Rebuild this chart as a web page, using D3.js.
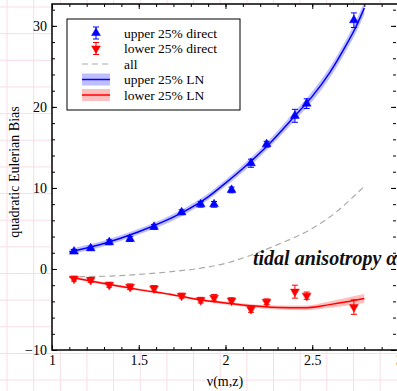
<!DOCTYPE html>
<html>
<head>
<meta charset="utf-8">
<script src="https://cdn.jsdelivr.net/npm/d3@7"></script>
<style>
  body { margin: 0; background: #fff; }
  svg { display: block; font-family: "Liberation Serif", serif; }
</style>
</head>
<body>
<div id="chart"></div>
<script>
// measured points (nu, bias, error)
const nuPts     = [1.127, 1.223, 1.33, 1.45, 1.588, 1.747, 1.857, 1.934, 2.035, 2.147, 2.237, 2.40, 2.468, 2.74];
const upperBias = [2.15, 2.55, 3.3, 3.7, 5.2, 7.0, 7.98, 7.98, 9.75, 13.05, 15.4, 18.9, 20.4, 30.7];
const upperErr  = [0.25, 0.25, 0.3, 0.3, 0.3, 0.3, 0.35, 0.35, 0.35, 0.5, 0.35, 0.8, 0.6, 0.9];
const lowerBias = [-1.2, -1.35, -1.95, -2.2, -2.4, -3.3, -3.85, -3.55, -3.9, -4.95, -4.05, -2.8, -3.3, -4.7];
const lowerErr  = [0.3, 0.3, 0.3, 0.35, 0.35, 0.3, 0.35, 0.4, 0.35, 0.4, 0.35, 0.8, 0.45, 0.9];

// LN model curves
const nuUpperLN = [1.1, 1.3, 1.5, 1.75, 1.9, 2.0, 2.1, 2.25, 2.4, 2.5, 2.6, 2.7, 2.75, 2.8];
const upperLN   = [2.1, 3.15, 4.6, 6.95, 8.9, 10.6, 12.4, 15.4, 18.9, 21.3, 24.2, 27.8, 29.8, 32.2];
const upperLNe  = [0.35, 0.35, 0.35, 0.4, 0.4, 0.4, 0.45, 0.5, 0.55, 0.6, 0.65, 0.7, 0.75, 0.8];
const nuLowerLN = [1.1, 1.3, 1.5, 1.7, 1.85, 2.0, 2.15, 2.3, 2.45, 2.6, 2.7, 2.8];
const lowerLN   = [-1.0, -1.8, -2.55, -3.2, -3.8, -4.2, -4.55, -4.75, -4.8, -4.4, -4.05, -3.65];
const lowerLNe  = [0.15, 0.15, 0.15, 0.15, 0.15, 0.18, 0.2, 0.25, 0.3, 0.4, 0.5, 0.55];

// all haloes
const nuAll  = [1.1, 1.3, 1.5, 1.7, 1.85, 2.0, 2.1, 2.3, 2.5, 2.6, 2.8];
const allB   = [-0.95, -0.9, -0.68, -0.3, 0.08, 0.7, 1.35, 3.0, 5.0, 6.4, 10.2];

const xTicks = [1, 1.5, 2, 2.5, 3];
const yTicks = [-10, 0, 10, 20, 30];
const legendLabels = ["upper 25% direct", "lower 25% direct", "all", "upper 25% LN", "lower 25% LN"];

const W = 397, H = 391;
const margin = {top: 4, left: 52};
const plotR = 399, plotB = 350;

const svg = d3.select("#chart").append("svg")
  .attr("width", W).attr("height", H);

// graph-paper background
const gridStep = 26.65;
const bg = svg.append("g").attr("stroke", "#f8dde6").attr("stroke-width", 1);
d3.range(7, W, gridStep).forEach(function(gx) {
  bg.append("line").attr("x1", gx).attr("x2", gx).attr("y1", 0).attr("y2", H);
});
d3.range(7, H, gridStep).forEach(function(gy) {
  bg.append("line").attr("y1", gy).attr("y2", gy).attr("x1", 0).attr("x2", W);
});

svg.append("rect")
  .attr("x", margin.left).attr("y", margin.top)
  .attr("width", plotR - margin.left).attr("height", plotB - margin.top)
  .attr("fill", "#fff");

let x = d3.scaleLinear().domain([1, 3]).range([margin.left, plotR]);
let y = d3.scaleLinear().domain([-10, 32.7]).range([plotB, margin.top]);

svg.append("clipPath").attr("id", "clip")
  .append("rect")
    .attr("x", margin.left).attr("y", margin.top)
    .attr("width", plotR - margin.left).attr("height", plotB - margin.top);

const plot = svg.append("g").attr("clip-path", "url(#clip)");

// LN bands + lines
function band(nu, v, e, color) {
  let pts = nu.map(function(n, i) { return {n: n, v: v[i], e: e[i]}; });
  plot.append("path")
    .datum(pts)
    .attr("fill", color).attr("fill-opacity", 0.25)
    .attr("d", d3.area()
      .curve(d3.curveMonotoneX)
      .x(function(d) { return x(d.n); })
      .y0(function(d) { return y(d.v - d.e); })
      .y1(function(d) { return y(d.v + d.e); }));
  plot.append("path")
    .datum(pts)
    .attr("fill", "none").attr("stroke", color).attr("stroke-width", 1.5)
    .attr("d", d3.line()
      .curve(d3.curveMonotoneX)
      .x(function(d) { return x(d.n); })
      .y(function(d) { return y(d.v); }));
}
band(nuUpperLN, upperLN, upperLNe, "#0000ff");
band(nuLowerLN, lowerLN, lowerLNe, "#ff0000");

// all (dashed)
plot.append("path")
  .datum(nuAll.map(function(n, i) { return [n, allB[i]]; }))
  .attr("fill", "none").attr("stroke", "#aaa").attr("stroke-width", 1.2)
  .attr("stroke-dasharray", "6,4")
  .attr("d", d3.line()
    .curve(d3.curveMonotoneX)
    .x(function(d) { return x(d[0]); })
    .y(function(d) { return y(d[1]); }));

// direct measurements with error bars
const tri = d3.symbol().type(d3.symbolTriangle).size(34);
function points(vals, errs, color, down) {
  let pts = nuPts.map(function(n, i) { return {n: n, v: vals[i], e: errs[i]}; });
  let g = plot.append("g").attr("stroke", color).attr("fill", color);
  let eb = g.selectAll("g.eb").data(pts).enter().append("g").attr("stroke-width", 1);
  eb.append("line")
    .attr("x1", function(d) { return x(d.n); }).attr("x2", function(d) { return x(d.n); })
    .attr("y1", function(d) { return y(d.v - d.e); }).attr("y2", function(d) { return y(d.v + d.e); });
  eb.append("line")
    .attr("x1", function(d) { return x(d.n) - 3; }).attr("x2", function(d) { return x(d.n) + 3; })
    .attr("y1", function(d) { return y(d.v - d.e); }).attr("y2", function(d) { return y(d.v - d.e); });
  eb.append("line")
    .attr("x1", function(d) { return x(d.n) - 3; }).attr("x2", function(d) { return x(d.n) + 3; })
    .attr("y1", function(d) { return y(d.v + d.e); }).attr("y2", function(d) { return y(d.v + d.e); });
  g.selectAll("path").data(pts).enter().append("path")
    .attr("d", tri)
    .attr("stroke-width", 0.5)
    .attr("transform", function(d) {
      return "translate(" + x(d.n) + "," + y(d.v) + ")" + (down ? " rotate(180)" : "");
    });
}
points(upperBias, upperErr, "#0000ff", false);
points(lowerBias, lowerErr, "#ff0000", true);

// annotation
svg.append("text")
  .attr("x", 253).attr("y", 265)
  .attr("font-size", 20).attr("font-weight", "bold").attr("font-style", "italic")
  .attr("fill", "#111")
  .text("tidal anisotropy α");

// axes
function styleAxis(g) {
  g.select(".domain").remove();
  g.selectAll("line").attr("stroke", "#000");
  g.selectAll("text").attr("font-size", 14).attr("fill", "#000")
    .attr("font-family", "Liberation Serif, serif");
}
const fmtY = function(d) { return d < 0 ? "\u2212" + Math.abs(d) : d; };
const minorX = d3.range(1, 3.001, 0.1);
const minorY = d3.range(-10, 33, 2);

svg.append("g").attr("transform", "translate(0," + plotB + ")")
  .call(d3.axisBottom(x).tickValues(xTicks).tickSize(-5).tickPadding(5).tickFormat(d3.format("")))
  .call(styleAxis);
svg.append("g").attr("transform", "translate(0," + plotB + ")")
  .call(d3.axisBottom(x).tickValues(minorX).tickSize(-3).tickFormat(""))
  .call(styleAxis);
svg.append("g").attr("transform", "translate(0," + margin.top + ")")
  .call(d3.axisTop(x).tickValues(xTicks).tickSize(-5).tickFormat(""))
  .call(styleAxis);
svg.append("g").attr("transform", "translate(0," + margin.top + ")")
  .call(d3.axisTop(x).tickValues(minorX).tickSize(-3).tickFormat(""))
  .call(styleAxis);

svg.append("g").attr("transform", "translate(" + margin.left + ",0)")
  .call(d3.axisLeft(y).tickValues(yTicks).tickSize(-5).tickPadding(5).tickFormat(fmtY))
  .call(styleAxis);
svg.append("g").attr("transform", "translate(" + margin.left + ",0)")
  .call(d3.axisLeft(y).tickValues(minorY).tickSize(-3).tickFormat(""))
  .call(styleAxis);
svg.append("g").attr("transform", "translate(" + (plotR - 3) + ",0)")
  .call(d3.axisRight(y).tickValues(yTicks).tickSize(-5).tickFormat(""))
  .call(styleAxis);
svg.append("g").attr("transform", "translate(" + (plotR - 3) + ",0)")
  .call(d3.axisRight(y).tickValues(minorY).tickSize(-3).tickFormat(""))
  .call(styleAxis);

// frame
svg.append("rect")
  .attr("x", margin.left).attr("y", margin.top)
  .attr("width", plotR - margin.left).attr("height", plotB - margin.top)
  .attr("fill", "none").attr("stroke", "#000").attr("stroke-width", 1.5);

// axis titles
svg.append("text")
  .attr("x", 225).attr("y", 386)
  .attr("text-anchor", "middle").attr("font-size", 14)
  .text("\u03bd(m,z)");

svg.append("text")
  .attr("transform", "translate(19,172) rotate(-90)")
  .attr("text-anchor", "middle").attr("font-size", 14)
  .text("quadratic Eulerian Bias");

// legend
const lg = svg.append("g");
lg.append("rect")
  .attr("x", 67).attr("y", 19).attr("width", 173).attr("height", 91)
  .attr("fill", "#fff").attr("stroke", "#000").attr("stroke-width", 1);

const rowY = d3.scalePoint().domain(legendLabels).range([33, 95]);
lg.selectAll("text.lab").data(legendLabels).enter().append("text")
  .attr("x", 124).attr("y", function(d) { return rowY(d) + 4.5; })
  .attr("font-size", 13.5)
  .text(function(d) { return d; });

function legendMarker(label, color, down) {
  let cy = rowY(label), cx = 96;
  let g = lg.append("g").attr("stroke", color).attr("fill", color);
  g.append("line").attr("x1", cx).attr("x2", cx).attr("y1", cy - 6).attr("y2", cy + 6);
  g.append("line").attr("x1", cx - 3).attr("x2", cx + 3).attr("y1", cy - 6).attr("y2", cy - 6);
  g.append("line").attr("x1", cx - 3).attr("x2", cx + 3).attr("y1", cy + 6).attr("y2", cy + 6);
  g.append("path").attr("d", tri).attr("stroke-width", 0.5)
    .attr("transform", "translate(" + cx + "," + cy + ")" + (down ? " rotate(180)" : ""));
}
legendMarker(legendLabels[0], "#0000ff", false);
legendMarker(legendLabels[1], "#ff0000", true);

lg.append("line")
  .attr("x1", 82).attr("x2", 110).attr("y1", rowY(legendLabels[2])).attr("y2", rowY(legendLabels[2]))
  .attr("stroke", "#aaa").attr("stroke-width", 1.2).attr("stroke-dasharray", "6,4");

function legendBand(label, color) {
  let cy = rowY(label);
  lg.append("rect").attr("x", 82).attr("y", cy - 6).attr("width", 28).attr("height", 12)
    .attr("fill", color).attr("fill-opacity", 0.25);
  lg.append("line").attr("x1", 82).attr("x2", 110).attr("y1", cy).attr("y2", cy)
    .attr("stroke", color).attr("stroke-width", 1.5);
}
legendBand(legendLabels[3], "#0000ff");
legendBand(legendLabels[4], "#ff0000");
</script>
</body>
</html>
